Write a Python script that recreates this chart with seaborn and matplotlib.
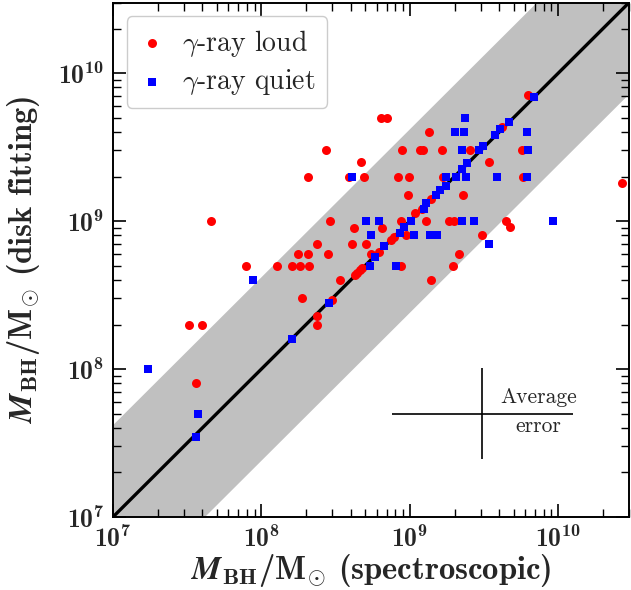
import numpy as np
import pandas as pd
import matplotlib
matplotlib.use("Agg")
import matplotlib.pyplot as plt
from matplotlib.ticker import LogLocator, FuncFormatter, NullFormatter
import seaborn as sns

# Black-hole masses: spectroscopic (x) vs. disk fitting (y), in solar masses
loud_spec = [2.7e10, 3.27e7, 4.0e7, 3.6e7, 4.6e7, 7.9e7, 1.28e8, 1.6e8, 1.82e8, 2.09e8,
             1.76e8, 2.07e8, 2.38e8, 2.8e8, 2.9e8, 4.2e8, 4.1e8, 5.1e8, 3.4e8, 1.88e8,
             2.38e8, 2.38e8, 3.0e8, 4.29e8, 4.44e8, 4.62e8, 4.77e8, 5.5e8, 6.2e8, 6.5e8,
             7.5e8, 7.8e8, 8.7e8, 9.4e8, 8.7e8, 1.28e9, 1.09e9, 1.39e9, 1.2e9, 9.7e8,
             2.27e9, 1.85e9, 1.97e9, 4.47e9, 4.7e9, 3.06e9, 2.16e9, 1.94e9, 1.39e9, 2.07e8,
             3.9e8, 4.9e8, 8.3e8, 9.9e8, 1.67e9, 5.8e9, 4.7e8, 3.43e9, 2.73e8, 8.8e8,
             1.17e9, 1.22e9, 1.64e9, 2.55e9, 5.7e9, 1.34e9, 4.15e9, 6.4e8, 7.0e8, 6.3e9]
loud_disk = [1.8e9, 2e8, 2e8, 8e7, 1e9, 5e8, 5e8, 5e8, 5e8, 5e8,
             6e8, 6e8, 7e8, 6e8, 1e9, 9e8, 7e8, 7e8, 4e8, 3e8,
             2.3e8, 2e8, 2.95e8, 4.3e8, 4.48e8, 4.67e8, 4.79e8, 6e8, 6.2e8, 9e8,
             7.5e8, 7.8e8, 1e9, 8e8, 5e8, 1e9, 1.13e9, 1.4e9, 1.2e9, 1.5e9,
             1.5e9, 1e9, 1e9, 1e9, 9.1e8, 8e8, 6e8, 5e8, 4e8, 2e9,
             2e9, 2e9, 2e9, 2e9, 2e9, 2e9, 2.5e9, 2.5e9, 3e9, 3e9,
             3e9, 3e9, 3e9, 3e9, 3e9, 4e9, 4.3e9, 5e9, 5e9, 7.1e9]

quiet_spec = [1.73e7, 3.76e7, 3.6e7, 8.8e7, 1.6e8, 2.86e8, 4.1e8, 5.1e8, 6.2e8, 5.5e8,
              6.75e8, 5.8e8, 5.4e8, 8.1e8, 9.1e8, 8.6e8, 1.02e9, 1.07e9, 1.36e9, 1.52e9,
              1.28e9, 1.25e9, 1.51e9, 1.6e9, 1.74e9, 2.25e9, 2.69e9, 9.2e9, 3.44e9, 1.76e9,
              2.05e9, 2.39e9, 3.87e9, 6.15e9, 2.23e9, 2.42e9, 2.25e9, 2.94e9, 3.1e9, 6.3e9,
              3.77e9, 4.07e9, 2.0e9, 2.33e9, 6.15e9, 4.64e9, 2.37e9, 6.9e9]
quiet_disk = [1e8, 5e7, 3.5e7, 4e8, 1.6e8, 2.8e8, 2e9, 1e9, 1e9, 8e8,
              6.8e8, 5.7e8, 5e8, 5e8, 9.1e8, 8.3e8, 1e9, 8e8, 8e8, 8e8,
              1.33e9, 1.2e9, 1.51e9, 1.62e9, 1.72e9, 1e9, 1e9, 1e9, 7e8, 2e9,
              2e9, 2e9, 2e9, 2e9, 2.24e9, 2.48e9, 3e9, 3.0e9, 3.2e9, 3e9,
              3.81e9, 4.16e9, 4e9, 4e9, 4e9, 4.7e9, 5e9, 6.9e9]

# Typical uncertainty cross (dex) and where it is drawn
err_center = (3.08e9, 5.0e7)
err_dex_x = 0.61
err_dex_y = 0.31
band_dex = 0.62

lim = (1e7, 3e10)

sns.set_style("ticks")
# Computer Modern look: bold roman for math labels, CM italic for Greek
plt.rcParams["mathtext.fontset"] = "custom"
plt.rcParams["mathtext.rm"] = "cmb10"
plt.rcParams["mathtext.bf"] = "cmb10"
plt.rcParams["mathtext.it"] = "cmmi10"
plt.rcParams["mathtext.bfit"] = "STIXGeneral:italic:bold"
plt.rcParams["mathtext.fallback"] = "cm"
plt.rcParams["font.family"] = ["serif"]
plt.rcParams["font.serif"] = ["cmr10", "DejaVu Serif"]
plt.rcParams["axes.formatter.use_mathtext"] = True

fig = plt.figure(figsize=(6.31, 5.90), dpi=100)
ax = fig.add_axes([0.179, 0.1237, 0.818, 0.872])
ax.set_xscale("log")
ax.set_yscale("log")

# one-to-one relation with scatter band
xx = np.logspace(6, 11, 50)
ax.fill_between(xx, xx / 10**band_dex, xx * 10**band_dex, color="#c0c0c0", lw=0, zorder=0)
ax.plot(xx, xx, color="black", lw=2.4, zorder=1)

loud = pd.DataFrame({"spec": loud_spec, "disk": loud_disk})
quiet = pd.DataFrame({"spec": quiet_spec, "disk": quiet_disk})
sns.scatterplot(data=loud, x="spec", y="disk", ax=ax, color="red", marker="o",
                s=42, linewidth=0, label=r"$\gamma$-ray loud", zorder=3)
sns.scatterplot(data=quiet, x="spec", y="disk", ax=ax, color="blue", marker="s",
                s=38, linewidth=0, label=r"$\gamma$-ray quiet", zorder=4)

# average error cross
ax.errorbar([err_center[0]], [err_center[1]],
            xerr=[[err_center[0] * (1 - 10**-err_dex_x)], [err_center[0] * (10**err_dex_x - 1)]],
            yerr=[[err_center[1] * (1 - 10**-err_dex_y)], [err_center[1] * (10**err_dex_y - 1)]],
            fmt="none", ecolor="black", elinewidth=1.2, capsize=0, zorder=5)
ax.text(0.824, 0.222, "Average", transform=ax.transAxes, ha="center", va="baseline",
        fontsize=15.5, family="cmr10")
ax.text(0.824, 0.165, "error", transform=ax.transAxes, ha="center", va="baseline",
        fontsize=15.5, family="cmr10")

ax.set_xlim(*lim)
ax.set_ylim(*lim)

fmt = FuncFormatter(lambda v, p: r"$\mathregular{10^{%d}}$" % round(np.log10(v)))
for axis in (ax.xaxis, ax.yaxis):
    axis.set_major_locator(LogLocator(base=10, numticks=10))
    axis.set_minor_locator(LogLocator(base=10, subs=np.arange(2, 10), numticks=20))
    axis.set_major_formatter(fmt)
    axis.set_minor_formatter(NullFormatter())

ax.tick_params(which="both", direction="in", top=True, right=True, color="black")
ax.tick_params(which="major", length=9.5, width=1.2, labelsize=18.5, pad=6,
               labelfontfamily="cmb10")
ax.tick_params(which="minor", length=5.5, width=1.0)
for sp in ax.spines.values():
    sp.set_linewidth(1.4)
    sp.set_color("black")

ax.set_xlabel(r"$\mathbfit{M}_{\mathbf{BH}}/\mathbf{M}_{\odot}$ (spectroscopic)",
              fontsize=23.5, family="cmb10")
ax.set_ylabel(r"$\mathbfit{M}_{\mathbf{BH}}/\mathbf{M}_{\odot}$ (disk fitting)",
              fontsize=23.5, family="cmb10")
ax.xaxis.set_label_coords(0.5, -0.068)
ax.yaxis.set_label_coords(-0.137, 0.5)

leg = ax.legend(loc="upper left", fontsize=20, frameon=True, framealpha=1,
                edgecolor="#cccccc", fancybox=True, handlelength=1.0,
                handletextpad=0.6, borderpad=0.4, labelspacing=0.3,
                borderaxespad=0.5, markerscale=1.0)
for t in leg.get_texts():
    t.set_family("cmr10")

fig.savefig("out.png", dpi=100)
